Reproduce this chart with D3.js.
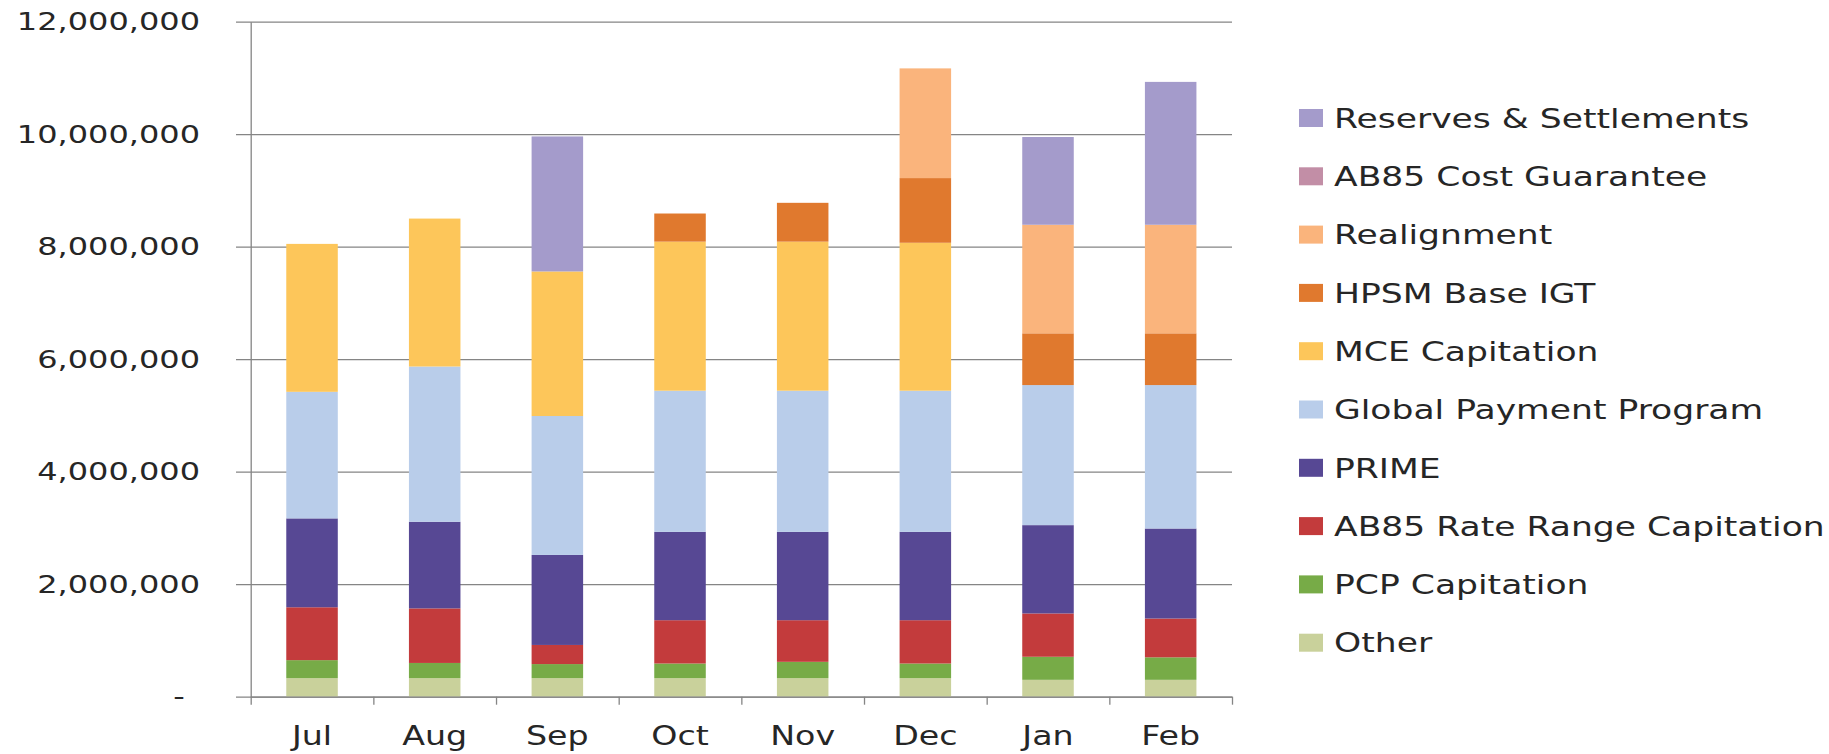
<!DOCTYPE html>
<html>
<head>
<meta charset="utf-8">
<script src="https://cdn.jsdelivr.net/npm/d3@7"></script>
<style>
  body { margin: 0; background: #fff; }
  svg { display: block; font-family: 'DejaVu Sans', sans-serif; }
</style>
</head>
<body>
<div id="chart"></div>
<script>
// months on the x axis
const months = ['Jul', 'Aug', 'Sep', 'Oct', 'Nov', 'Dec', 'Jan', 'Feb']

// series values (dollars), bottom of stack first
const other         = [330000, 330000, 330000, 330000, 330000, 330000, 300000, 300000]
const pcpCap        = [320000, 270000, 250000, 260000, 290000, 260000, 410000, 400000]
const ab85RateRange = [940000, 970000, 340000, 770000, 740000, 770000, 770000, 690000]
const prime         = [1580000, 1540000, 1600000, 1570000, 1570000, 1570000, 1570000, 1600000]
const globalPayment = [2250000, 2760000, 2470000, 2510000, 2510000, 2510000, 2490000, 2550000]
const mceCap        = [2630000, 2630000, 2570000, 2650000, 2650000, 2630000, 0, 0]
const hpsmBaseIgt   = [0, 0, 0, 500000, 690000, 1150000, 920000, 920000]
const realignment   = [0, 0, 0, 0, 0, 1950000, 1930000, 1930000]
const ab85CostGuar  = [0, 0, 0, 0, 0, 0, 0, 0]
const reserves      = [0, 0, 2400000, 0, 0, 0, 1560000, 2540000]

const seriesNames = ['Other', 'PCP Capitation', 'AB85 Rate Range Capitation', 'PRIME',
  'Global Payment Program', 'MCE Capitation', 'HPSM Base IGT', 'Realignment',
  'AB85 Cost Guarantee', 'Reserves & Settlements']
const seriesValues = [other, pcpCap, ab85RateRange, prime, globalPayment, mceCap,
  hpsmBaseIgt, realignment, ab85CostGuar, reserves]

const yTicks = [0, 2000000, 4000000, 6000000, 8000000, 10000000, 12000000]

const colors = {
  'Other': '#c9d19b',
  'PCP Capitation': '#77ab47',
  'AB85 Rate Range Capitation': '#c33b3c',
  'PRIME': '#574894',
  'Global Payment Program': '#b9cdea',
  'MCE Capitation': '#fdc65a',
  'HPSM Base IGT': '#e0792e',
  'Realignment': '#fab47c',
  'AB85 Cost Guarantee': '#c28ea6',
  'Reserves & Settlements': '#a49bcb'
}

const width = 1829
const height = 754
const x0 = 250.7, x1 = 1232
const yTop = 21.7, yBase = 696.7
const SX = 1.28   // the source picture is stretched wide, so is the text
const textColor = '#262626'
const lineColor = '#858585'

// one row per month for d3.stack
const table = months.map((m, i) => {
  const row = { month: m }
  seriesNames.forEach((s, k) => { row[s] = seriesValues[k][i] })
  return row
})

const svg = d3.select('#chart')
  .append('svg')
  .attr('width', width)
  .attr('height', height)

const x = d3.scaleBand()
  .domain(months)
  .range([x0, x1])
  .paddingInner(0.58)
  .paddingOuter(0.29)

const y = d3.scaleLinear()
  .domain([0, 12000000])
  .range([yBase, yTop])

// Gridlines (run a bit left of the axis, like tick marks)
const grid = svg.append('g')
  .attr('transform', `translate(236,0)`)
  .call(d3.axisLeft(y).tickValues(yTicks).tickSize(-(x1 - 236)).tickFormat(''))
grid.select('.domain').remove()
grid.selectAll('.tick line')
  .attr('stroke', lineColor)
  .attr('stroke-width', 1.3)

// Y axis line and labels
const fmt = d3.format(',')
const yAxis = svg.append('g')
  .attr('transform', `translate(${x0},0)`)
  .call(d3.axisLeft(y).tickValues(yTicks).tickSize(0).tickSizeOuter(0)
    .tickFormat(d => d === 0 ? '-' : fmt(d)))
yAxis.select('.domain')
  .attr('stroke', lineColor)
  .attr('stroke-width', 1.3)
yAxis.selectAll('.tick text')
  .attr('x', 0)
  .attr('fill', textColor)
  .attr('font-size', 25)
  .attr('font-family', 'DejaVu Sans')
  .attr('transform', d => `translate(${d === 0 ? -66 : -50.7},0) scale(${SX},1)`)

// Stacked bars
const stack = d3.stack().keys(seriesNames)
const layers = stack(table)

svg.append('g')
  .selectAll('g')
  .data(layers)
  .join('g')
  .attr('fill', d => colors[d.key])
  .selectAll('rect')
  .data(d => d)
  .join('rect')
  .attr('x', d => x(d.data.month))
  .attr('width', x.bandwidth())
  .attr('y', d => y(d[1]))
  .attr('height', d => y(d[0]) - y(d[1]))

// X axis: tick marks sit between the months
const xEdges = d3.scaleLinear().domain([0, months.length]).range([x0, x1])
const xTicks = svg.append('g')
  .attr('transform', `translate(0,${yBase})`)
  .call(d3.axisBottom(xEdges).tickValues(d3.range(months.length + 1)).tickSize(8).tickSizeOuter(0).tickFormat(''))
xTicks.select('.domain')
  .attr('stroke', lineColor)
  .attr('stroke-width', 1.3)
xTicks.selectAll('.tick line')
  .attr('stroke', lineColor)
  .attr('stroke-width', 1.3)

const xAxis = svg.append('g')
  .attr('transform', `translate(0,${yBase})`)
  .call(d3.axisBottom(x).tickSize(0).tickPadding(30))
xAxis.select('.domain').remove()
xAxis.selectAll('.tick text')
  .attr('fill', textColor)
  .attr('font-size', 26)
  .attr('font-family', 'DejaVu Sans')
  .attr('transform', `scale(${SX},1)`)
  .attr('y', 30 / 1)

// Legend, top entry is the top of the stack
const legend = svg.append('g')
  .selectAll('g')
  .data(seriesNames.slice().reverse())
  .join('g')
  .attr('transform', (d, i) => `translate(1299,${118 + i * 58.3})`)

legend.append('rect')
  .attr('x', 0)
  .attr('y', -9)
  .attr('width', 24)
  .attr('height', 18)
  .attr('fill', d => colors[d])

legend.append('text')
  .attr('transform', `translate(35,0) scale(${SX},1)`)
  .attr('dy', '0.36em')
  .attr('fill', textColor)
  .attr('font-size', 27)
  .text(d => d)
</script>
</body>
</html>
